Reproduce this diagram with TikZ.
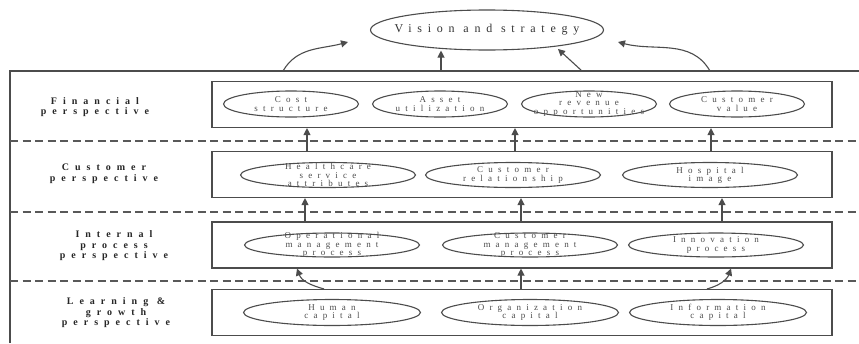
\documentclass[tikz,border=0pt]{standalone}
\usepackage{fontspec}
\setmainfont{Liberation Serif}
\newfontfamily\ovalfont[LetterSpace=58]{Liberation Serif}
\newfontfamily\rowfont[LetterSpace=60]{Liberation Serif}
\newfontfamily\visionfont[LetterSpace=48]{Liberation Serif}
\usetikzlibrary{shapes}
\usetikzlibrary{arrows.meta}
\usetikzlibrary{positioning}

\tikzset{
  grayline/.style={draw=black!70, line width=1.1pt},
  rowbox/.style={grayline, minimum width=620pt, minimum height=46pt, inner sep=0pt},
  oval/.style={ellipse, grayline, inner sep=0pt, minimum height=25pt},
  ovaltext/.style={align=center, font=\ovalfont\fontsize{9}{8.3}\selectfont, text=black!70},
  visiontext/.style={font=\visionfont\fontsize{12}{12}\selectfont, text=black!80},
  rowlabel/.style={align=center, font=\rowfont\bfseries\fontsize{10}{10.5}\selectfont, text=black!85},
  divider/.style={draw=black!65, line width=1.3pt, dash pattern=on 8pt off 4.5pt},
  arr/.style={grayline, -{Triangle[width=7pt,length=7pt]}}
}

\begin{document}
\begin{tikzpicture}[x=1pt,y=-1pt]
  \useasboundingbox (0,0) rectangle (859,343);

  % outer frame and dividers
  \coordinate (frameBL) at (10,343);
  \coordinate (frameTL) at (10,71);
  \coordinate (frameTR) at (859,71);
  \draw[grayline] (frameBL) -- (frameTL) -- (frameTR);
  \foreach \y in {141,212,281}
    \draw[divider] (10,\y) -- (859,\y);

  % vision
  \node[oval, minimum width=233pt, minimum height=40pt] (vision) at (487,30) {};
  \node[visiontext] (vision-text) at (vision) {Vision and strategy};

  % perspective boxes
  \node[rowbox] (fin) at (522,104.5) {};
  \node[rowbox] (cus) at (522,174.5) {};
  \node[rowbox] (int) at (522,245) {};
  \node[rowbox] (lrn) at (522,312.5) {};

  \node[rowlabel] (fin-label) at (95,107) {Financial\\perspective};
  \node[rowlabel] (cus-label) at (104,174) {Customer\\perspective};
  \node[rowlabel] (int-label) at (114,246) {Internal\\process\\perspective};
  \node[rowlabel] (lrn-label) at (116,313) {Learning \&\\growth\\perspective};

  % objectives
  \foreach \name/\x/\txt in {cost/291/{Cost\\structure}, asset/440/{Asset\\utilization},
      revenue/589/{New\\revenue\\opportunities}, value/737/{Customer\\value}}
  {
    \node[oval, minimum width=135pt, minimum height=26pt] (\name) at (\x,104) {};
    \node[ovaltext] (\name-text) at (\name) {\txt};
  }
  \foreach \name/\x/\txt in {service/328/{Healthcare\\service\\attributes},
      relation/513/{Customer\\relationship}, image/710/{Hospital\\image}}
  {
    \node[oval, minimum width=175pt] (\name) at (\x,175) {};
    \node[ovaltext] (\name-text) at (\name) {\txt};
  }
  \foreach \name/\x/\txt in {operation/332/{Operational\\management\\process},
      management/530/{Customer\\management\\process}, innovation/716/{Innovation\\process}}
  {
    \node[oval, minimum width=175pt, minimum height=24pt] (\name) at (\x,245) {};
    \node[ovaltext] (\name-text) at (\name) {\txt};
  }
  \foreach \name/\x/\txt in {human/332/{Human\\capital},
      organization/530/{Organization\\capital}, information/718/{Information\\capital}}
  {
    \node[oval, minimum width=177pt, minimum height=26pt] (\name) at (\x,312.5) {};
    \node[ovaltext] (\name-text) at (\name) {\txt};
  }

  % arrows to vision
  \coordinate (v1) at (283,71);
  \coordinate (v1tip) at (348,42);
  \coordinate (v2) at (441,71);
  \coordinate (v3) at (582,71);
  \coordinate (v3tip) at (558,49);
  \coordinate (v4) at (710,71);
  \coordinate (v4tip) at (618,42);
  \draw[arr] (v1) to[out=60,in=195] (v1tip);
  \draw[arr] (v2) -- (v2 |- vision.south);
  \draw[arr] (v3) -- (v3tip);
  \draw[arr] (v4) to[out=120,in=-15] (v4tip);

  % arrows between perspectives
  \foreach \x in {307,515,711}
    \draw[arr] (\x,0 |- cus.north) -- (\x,0 |- fin.south);
  \foreach \x in {305,521,722}
    \draw[arr] (\x,0 |- int.north) -- (\x,0 |- cus.south);
  \draw[arr] (324,0 |- lrn.north) to[out=165,in=-70] (297,0 |- int.south);
  \draw[arr] (521,0 |- lrn.north) -- (521,0 |- int.south);
  \draw[arr] (707,0 |- lrn.north) to[out=15,in=-110] (731,0 |- int.south);
\end{tikzpicture}
\end{document}
